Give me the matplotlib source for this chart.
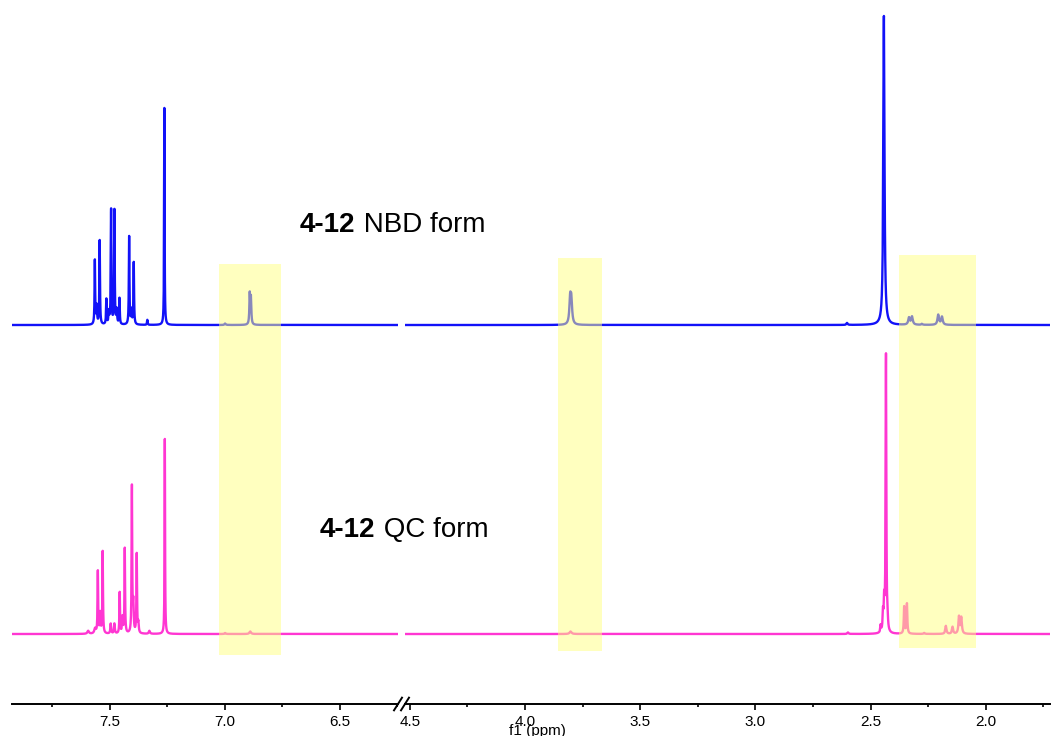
import numpy as np
import matplotlib
matplotlib.use("Agg")
import matplotlib.pyplot as plt
from matplotlib.patches import Rectangle

plt.rcParams['font.family'] = ['Liberation Sans', 'DejaVu Sans']

# ---------------- data ----------------
left_range = (7.924, 6.247)     # ppm shown in left panel
right_range = (4.521, 1.721)    # ppm shown in right panel

major_ticks_left = [7.5, 7.0, 6.5]
major_ticks_right = [4.5, 4.0, 3.5, 3.0, 2.5, 2.0]

# 4-12 NBD form (peak positions ppm, heights a.u., half widths ppm)
nbd_ppm = [7.564, 7.556, 7.543, 7.514, 7.503, 7.4935, 7.479, 7.469, 7.457,
           7.415, 7.405, 7.395, 7.336, 7.262, 6.998, 6.891, 6.886,
           3.804, 3.799, 2.602, 2.442, 2.333, 2.320, 2.277, 2.206, 2.190]
nbd_height = [64, 18, 84, 25, 12, 115, 114, 14, 26,
              88, 14, 62, 5, 217, 1.5, 30, 26,
              24, 22, 2, 309, 7, 8, 1, 10, 8]
nbd_width = [0.0015, 0.002, 0.0015, 0.0015, 0.002, 0.0015, 0.0015, 0.002, 0.0015,
             0.0015, 0.002, 0.0015, 0.0015, 0.0012, 0.003, 0.002, 0.002,
             0.004, 0.004, 0.003, 0.003, 0.004, 0.004, 0.003, 0.004, 0.004]

# 4-12 QC form
qc_ppm = [7.593, 7.563, 7.551, 7.541, 7.530, 7.495, 7.479, 7.456, 7.444,
          7.434, 7.403, 7.397, 7.382, 7.375, 7.327, 7.260, 6.998, 6.889,
          3.802, 2.598, 2.456, 2.446, 2.441, 2.433, 2.426, 2.354, 2.342,
          2.267, 2.173, 2.144, 2.116, 2.106]
qc_height = [3, 5, 62, 20, 82, 10, 10, 41, 16,
             85, 146, 28, 79, 10, 3, 195, 1, 2.5,
             2.5, 1.5, 7, 18, 28, 278, 8, 27, 30,
             1, 8, 7, 17, 16]
qc_width = [0.004, 0.004, 0.0015, 0.002, 0.0015, 0.002, 0.002, 0.0015, 0.002,
            0.0015, 0.0015, 0.002, 0.0015, 0.002, 0.003, 0.0012, 0.003, 0.004,
            0.005, 0.003, 0.002, 0.002, 0.002, 0.0018, 0.002, 0.002, 0.002,
            0.003, 0.003, 0.003, 0.003, 0.003]

highlight_ppm = [(7.024, 6.754), (3.857, 3.666), (2.377, 2.042)]

labels = [("4-12", " NBD form"), ("4-12", " QC form")]

# ---------------- styling / layout ----------------
W, H = 1053, 736
fig = plt.figure(figsize=(W / 100, H / 100), dpi=100)


def px_axes(x0, x1, y0, y1):
    return fig.add_axes([x0 / W, 1 - y1 / H, (x1 - x0) / W, (y1 - y0) / H])


axL = px_axes(12, 398, 0, 704)
axR = px_axes(405, 1050, 0, 704)

blue = '#1212f8'
pink = '#ff36d2'
offset_nbd = 379   # vertical offsets of the two traces (same units as heights)
offset_qc = 70


def spectrum(x, ppm, hgt, wid):
    y = np.zeros_like(x)
    for p, h, w in zip(ppm, hgt, wid):
        y += h / (1 + ((x - p) / w) ** 2)
    return y


for ax, rng, majors in [(axL, left_range, major_ticks_left),
                        (axR, right_range, major_ticks_right)]:
    x = np.arange(min(rng), max(rng), 0.0002)
    ax.plot(x, offset_nbd + spectrum(x, nbd_ppm, nbd_height, nbd_width),
            color=blue, lw=1.7, zorder=2, solid_joinstyle='round')
    ax.plot(x, offset_qc + spectrum(x, qc_ppm, qc_height, qc_width),
            color=pink, lw=1.7, zorder=2, solid_joinstyle='round')
    ax.set_xlim(rng)
    ax.set_ylim(0, 704)
    ax.set_yticks([])
    for s in ['left', 'right', 'top']:
        ax.spines[s].set_visible(False)
    ax.spines['bottom'].set_linewidth(1.4)
    ax.set_xticks(majors)
    ax.set_xticklabels([f"{t:.1f}" for t in majors])
    minors = [m + 0.25 for m in majors] + [majors[-1] - 0.25]
    minors = [m for m in minors if min(rng) <= m <= max(rng)]
    ax.set_xticks(minors, minor=True)
    ax.tick_params(axis='x', which='major', direction='out', length=4.5,
                   width=1.2, labelsize=11, pad=3.5)
    ax.tick_params(axis='x', which='minor', direction='out', length=2.5,
                   width=1.2)
    ax.patch.set_alpha(0)

# highlight boxes (vertical extents in axis units)
box_y = [(49, 440), (53, 446), (56, 449)]
for (a, b), (y0, y1) in zip(highlight_ppm, box_y):
    ax = axL if a > 5 else axR
    ax.add_patch(Rectangle((b, y0), a - b, y1 - y0, facecolor=(1, 1, 0.5),
                           alpha=0.5, edgecolor='none', zorder=3))

# break marks
for ax, xa in [(axL, 1.0), (axR, 0.0)]:
    dx = 4 / ax.bbox.width
    ax.plot([xa - dx, xa + dx], [-0.009, 0.009], transform=ax.transAxes,
            color='black', lw=1.4, clip_on=False)

# labels
for (bold, rest), (xp, yp) in zip(labels, [(300, 225), (320, 530)]):
    t = fig.text(xp / W, 1 - yp / H, bold, fontsize=20, weight='bold',
                 va='center', ha='left')
    plt.annotate(rest, xy=(1, 0.5), xycoords=t, va='center', ha='left',
                 fontsize=20, annotation_clip=False)

fig.text(537 / W, 1 - 731 / H, 'f1 (ppm)', fontsize=11, ha='center', va='center')

fig.savefig('out.png', dpi=100)
